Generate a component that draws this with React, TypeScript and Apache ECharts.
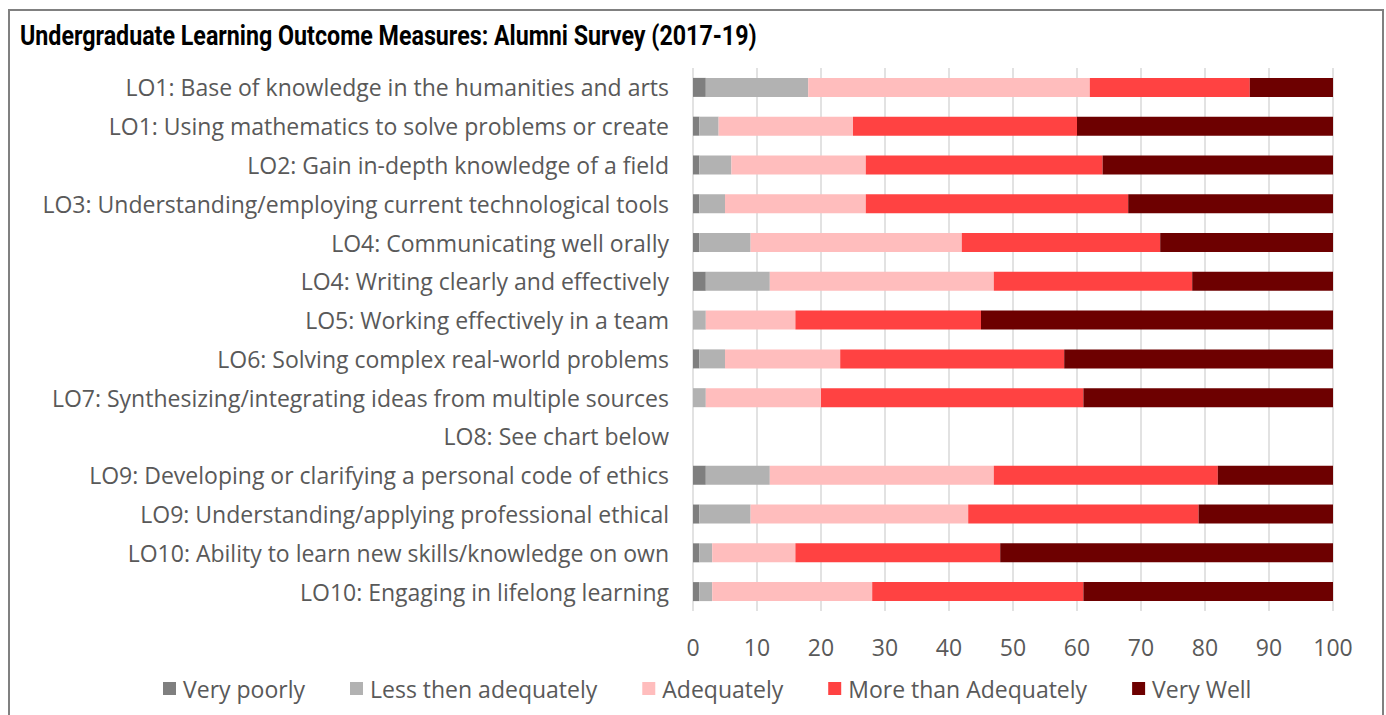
import React, { useEffect, useRef } from "react";
import * as echarts from "echarts";

const categories = [
  "LO1: Base of knowledge in the humanities and arts",
  "LO1: Using mathematics to solve problems or create",
  "LO2: Gain in-depth knowledge of a field",
  "LO3: Understanding/employing current technological tools",
  "LO4: Communicating well orally",
  "LO4: Writing clearly and effectively",
  "LO5: Working effectively in a team",
  "LO6: Solving complex real-world problems",
  "LO7: Synthesizing/integrating ideas from multiple sources",
  "LO8: See chart below",
  "LO9: Developing or clarifying a personal code of ethics",
  "LO9: Understanding/applying professional ethical",
  "LO10: Ability to learn new skills/knowledge on own",
  "LO10: Engaging in lifelong learning",
];

const veryPoorly = [2, 1, 1, 1, 1, 2, 0, 1, 0, null, 2, 1, 1, 1];
const lessThenAdequately = [16, 3, 5, 4, 8, 10, 2, 4, 2, null, 10, 8, 2, 2];
const adequately = [44, 21, 21, 22, 33, 35, 14, 18, 18, null, 35, 34, 13, 25];
const moreThanAdequately = [25, 35, 37, 41, 31, 31, 29, 35, 41, null, 35, 36, 32, 33];
const veryWell = [13, 40, 36, 32, 27, 22, 55, 42, 39, null, 18, 21, 52, 39];

const xTicks = { min: 0, max: 100, interval: 10 };

const titleText = "Undergraduate Learning Outcome Measures: Alumni Survey (2017-19)";

const seriesDefs = [
  { name: "Very poorly", data: veryPoorly, color: "#7f7f7f" },
  { name: "Less then adequately", data: lessThenAdequately, color: "#b2b2b2" },
  { name: "Adequately", data: adequately, color: "#ffbdbd" },
  { name: "More than Adequately", data: moreThanAdequately, color: "#ff4242" },
  { name: "Very Well", data: veryWell, color: "#6d0000" },
];

const FONT = "'Open Sans', sans-serif";

export default function App() {
  const ref = useRef<HTMLDivElement>(null);
  useEffect(() => {
    if (!ref.current) return;
    const chart = echarts.init(ref.current, null, { renderer: "svg" });
    chart.setOption({
      animation: false,
      backgroundColor: "#ffffff",
      graphic: [
        {
          type: "rect",
          shape: { x: 9, y: 10, width: 1374, height: 720 },
          style: { fill: "none", stroke: "#808080", lineWidth: 2 },
          silent: true,
        },
        {
          type: "text",
          x: 20,
          y: 21,
          scaleX: 0.83,
          style: {
            text: titleText,
            font: "bold 28px Roboto, sans-serif",
            fill: "#000000",
            textVerticalAlign: "top",
          },
          silent: true,
        },
      ],
      legend: {
        bottom: 10,
        left: 158,
        itemWidth: 13,
        itemHeight: 13,
        itemGap: 45,
        icon: "rect",
        textStyle: { fontFamily: FONT, fontSize: 23, color: "#595959", padding: [0, 0, 0, 2] },
        data: seriesDefs.map((s) => s.name),
      },
      grid: { left: 693, right: 53, top: 68, bottom: 104, containLabel: false },
      xAxis: {
        type: "value",
        min: xTicks.min,
        max: xTicks.max,
        interval: xTicks.interval,
        axisLine: { show: false },
        axisTick: { show: false },
        splitLine: { show: true, lineStyle: { color: "#d9d9d9", width: 1.5 } },
        axisLabel: { fontFamily: FONT, fontSize: 23, color: "#595959", margin: 24 },
      },
      yAxis: {
        type: "category",
        inverse: true,
        data: categories,
        axisLine: { show: false },
        axisTick: { show: false },
        axisLabel: { fontFamily: FONT, fontSize: 23, color: "#595959", margin: 24 },
      },
      series: seriesDefs.map((s) => ({
        name: s.name,
        type: "bar",
        stack: "total",
        barWidth: 19,
        data: s.data,
        itemStyle: { color: s.color },
      })),
    });
    return () => chart.dispose();
  }, []);
  return (
    <div
      ref={ref}
      style={{ position: "absolute", left: 0, top: 0, width: 1386, height: 715 }}
    />
  );
}
